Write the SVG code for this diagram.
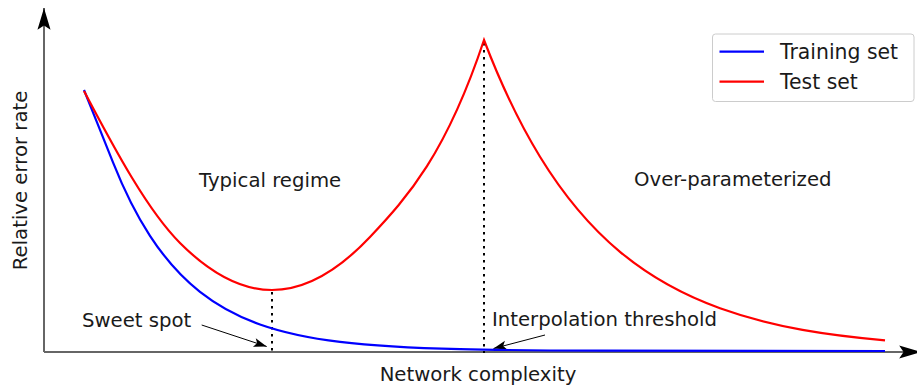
<svg xmlns="http://www.w3.org/2000/svg" width="917" height="385" viewBox="0 0 917 385">
<style>
text{font-family:"DejaVu Sans","Liberation Sans",sans-serif;font-size:19.7px;fill:#1a1a1a}
.axis{stroke:#666;stroke-width:2;fill:none}
.dot{stroke:#000;stroke-width:2;stroke-dasharray:2.5 4.5;fill:none}
.train{stroke:#0000ff;stroke-width:2.2;fill:none}
.test{stroke:#ff0000;stroke-width:2.2;fill:none;stroke-linejoin:miter}
.ann{stroke:#000;stroke-width:1;fill:none}
</style>
<defs>
<marker id="big" markerUnits="userSpaceOnUse" markerWidth="24" markerHeight="16" viewBox="-21 -7 22 14" refX="0" refY="0" orient="auto">
<path d="M0,0 L-20,-6 L-16,0 L-20,6 Z" fill="#000"/>
</marker>
<marker id="small" markerUnits="userSpaceOnUse" markerWidth="16" markerHeight="12" viewBox="-14 -6 15 12" refX="0" refY="0" orient="auto">
<path d="M0,0 L-13,-4.5 L-10,0 L-13,4.5 Z" fill="#000"/>
</marker>
</defs>
<g id="axes">
<line class="axis" x1="44" y1="352" x2="44" y2="8" marker-end="url(#big)"/>
<line class="axis" x1="44" y1="352" x2="921" y2="352" marker-end="url(#big)"/>
<text x="478" y="381" text-anchor="middle">Network complexity</text>
<text transform="translate(26.5,180.5) rotate(-90)" text-anchor="middle">Relative error rate</text>
</g>
<g id="connectors">
<line class="dot" x1="272" y1="292" x2="272" y2="353"/>
<line class="dot" x1="484" y1="43" x2="484" y2="353"/>
<line class="ann" x1="201.7" y1="325" x2="266.7" y2="346.5" marker-end="url(#small)"/>
<line class="ann" x1="545" y1="335" x2="493.5" y2="348.5" marker-end="url(#small)"/>
</g>
<g id="training-curve">
<path class="train" d="M84,90 C93.67,114.2 103.33,138 113,162.3 C125.33,193.33 137.67,216.86 150,235.8 C166.67,261.4 183.33,278.69 200,291.84 C220,307.62 240,317.34 260,324.42 C286.67,333.86 313.33,338.6 340,341.85 C380,346.73 420,348.16 460,349.15 C506.67,350.3 553.33,350.51 600,350.7 L885,351"/>
</g>
<g id="test-curve">
<path class="test" d="M84,91 C116,151.8 148,211 180,243 C210.67,273.67 241.33,290 272,290 C304.67,290 337.33,271.6 370,237 C408,196.7 446,154 484,40 C502.67,88.78 521.33,126.21 540,156.7 C566.67,200.25 593.33,229.56 620,251.8 C653.33,279.6 686.67,296.2 720,308.2 C775,328 830,335.35 885,340.3"/>
</g>
<g id="label-typical"><text x="199" y="187">Typical regime</text></g>
<g id="label-over"><text x="634" y="186">Over-parameterized</text></g>
<g id="label-sweet"><text x="82" y="327">Sweet spot</text></g>
<g id="label-interp"><text x="492" y="326">Interpolation threshold</text></g>
<g id="legend">
<rect x="712.5" y="34" width="201.5" height="67.5" rx="3" fill="#fff" stroke="#ccc" stroke-width="1"/>
<line x1="719.5" y1="51.7" x2="764" y2="51.7" class="train"/>
<line x1="719.5" y1="81.7" x2="764" y2="81.7" class="test"/>
<text x="780" y="58.5" style="font-size:20.4px">Training set</text>
<text x="780" y="88.5" style="font-size:20.4px">Test set</text>
</g>
</svg>
